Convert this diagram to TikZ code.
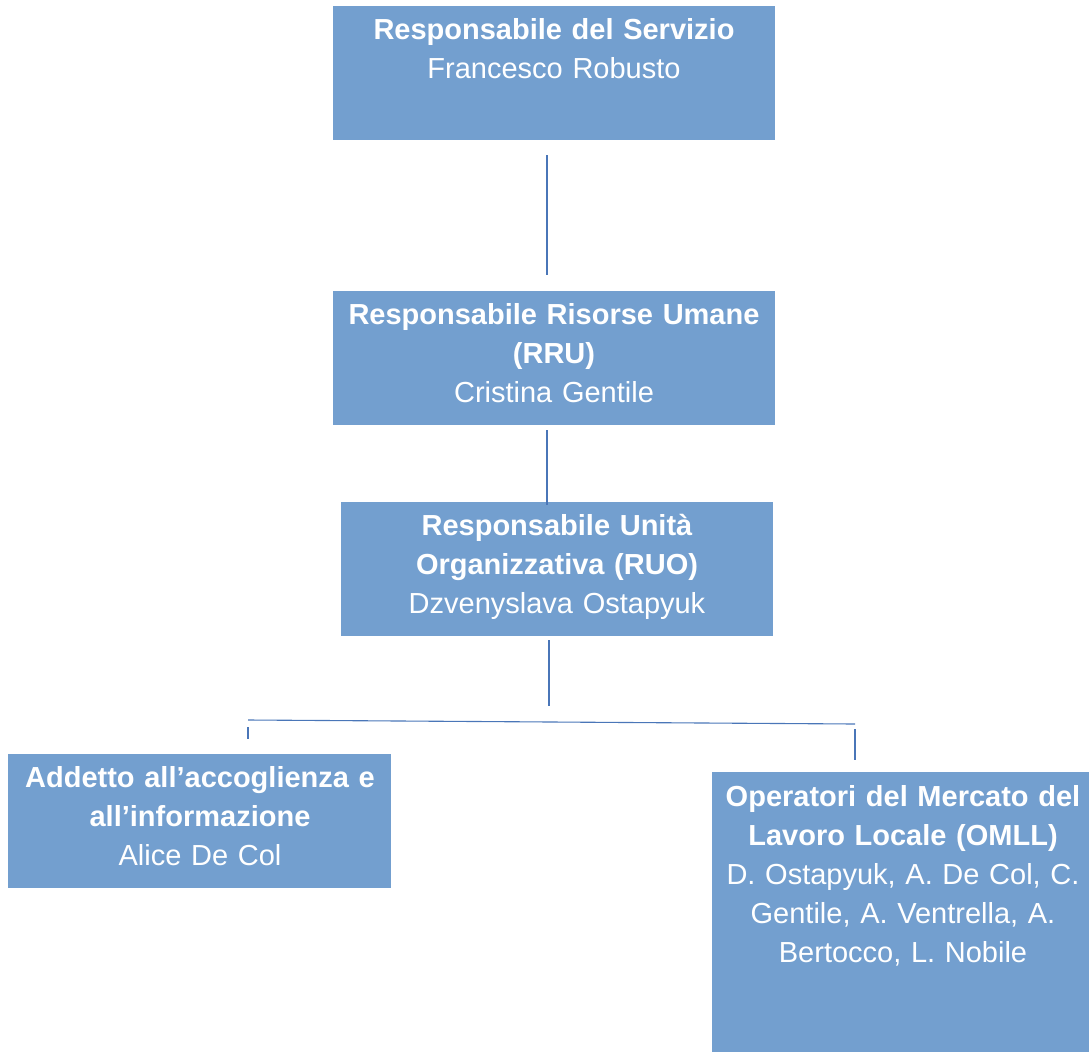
\documentclass[tikz,border=0pt]{standalone}
\usepackage{fontspec}
\setmainfont{Liberation Sans}
\usetikzlibrary{calc}
\definecolor{boxfill}{RGB}{115,159,207}
\definecolor{linkcol}{RGB}{74,118,184}
\tikzset{
  box/.style={fill=boxfill, draw=none, inner sep=0pt, anchor=north west},
  label/.style={anchor=base, align=center, text=white, inner sep=0pt,
    font=\fontsize{29pt}{39pt}\selectfont},
  link/.style={draw=linkcol, line width=1.1pt}
}
\newcommand{\bx}[1]{\textbf{#1}}
\begin{document}
\begin{tikzpicture}[x=1pt,y=-1pt]
\useasboundingbox (0,0) rectangle (1089,1052);
% boxes
\node[box, minimum width=442pt, minimum height=134pt] (b1) at (333,6) {};
\node[box, minimum width=442pt, minimum height=134pt] (b2) at (333,291) {};
\node[box, minimum width=432pt, minimum height=134pt] (b3) at (341,502) {};
\node[box, minimum width=383pt, minimum height=134pt] (b4) at (8,754) {};
\node[box, minimum width=377pt, minimum height=280pt] (b5) at (712,772) {};
% texts
\node[label, text width=440pt] (t1) at (554,39) {\bx{Responsabile del Servizio}\\Francesco Robusto};
\node[label, text width=440pt] (t2) at (554,324) {\bx{Responsabile Risorse Umane}\\\bx{(RRU)}\\Cristina Gentile};
\node[label, text width=430pt] (t3) at (557,535) {\bx{Responsabile Unità}\\\bx{Organizzativa (RUO)}\\Dzvenyslava Ostapyuk};
\node[label, text width=381pt] (t4) at (200,787) {\bx{Addetto all’accoglienza e}\\\bx{all’informazione}\\Alice De Col};
\node[label, text width=375pt] (t5) at (903,806) {\bx{Operatori del Mercato del}\\\bx{Lavoro Locale (OMLL)}\\D. Ostapyuk, A. De Col, C.\\Gentile, A. Ventrella, A.\\Bertocco, L. Nobile};
% connector points
\coordinate (c1a) at ($(b1.south west)+(214,15)$);
\coordinate (c1b) at ($(b2.north west)+(214,-16)$);
\coordinate (c2a) at ($(b2.south west)+(214,5)$);
\coordinate (c2b) at ($(b3.north west)+(206,3)$);
\coordinate (c3a) at ($(b3.south west)+(208,4)$);
\coordinate (c3b) at (549,706);
\coordinate (hl) at (248,720);
\coordinate (hr) at (855,724);
\coordinate (l4a) at (248,727);
\coordinate (l4b) at (248,739);
\coordinate (l5a) at (855,729);
\coordinate (l5b) at (855,760);
% connectors
\draw[link] (c1a) -- (c1b);
\draw[link] (c2a) -- (c2b);
\draw[link] (c3a) -- (c3b);
\draw[link] (hl) -- (hr);
\draw[link] (l4a) -- (l4b);
\draw[link] (l5a) -- (l5b);
\end{tikzpicture}
\end{document}
